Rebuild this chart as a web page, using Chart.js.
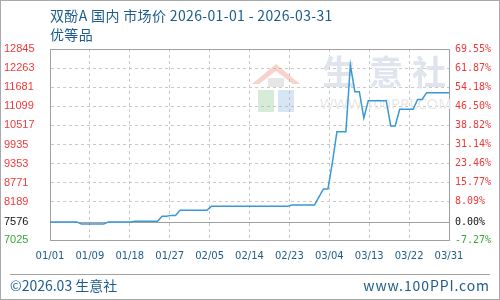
<!DOCTYPE html>
<html>
<head>
<meta charset="utf-8">
<script src="https://cdn.jsdelivr.net/npm/chart.js@4.4.1/dist/chart.umd.min.js"></script>
<style>
  html, body { margin: 0; padding: 0; background: #fff; }
  #wrap { position: relative; width: 500px; height: 300px; box-sizing: border-box; border: 1px solid #aaa; overflow: hidden; }
  #c { position: absolute; left: -1px; top: -1px; }
  .txt { position: absolute; font-family: "Noto Sans CJK SC", "Noto Sans", sans-serif; font-size: 14px; color: #1d5c8c; white-space: nowrap; line-height: 19px; }
  #title { left: 49px; top: 5px; letter-spacing: 0.35px; }
  #foot { position: absolute; left: 9px; top: 273px; width: 480px; height: 0; border-top: 1px solid #a0a0a0; }
  #copy { left: 9px; top: 275px; }
  #site { right: 9px; top: 275px; letter-spacing: 0.9px; }
</style>
</head>
<body>
<div id="wrap">
  <canvas id="c" width="500" height="300"></canvas>
  <div class="txt" id="title">双酚A 国内 市场价 2026-01-01 - 2026-03-31<br>优等品</div>
  <div id="foot"></div>
  <div class="txt" id="copy">©2026.03 生意社</div>
  <div class="txt" id="site">www.100PPI.com</div>
</div>
<script>
// daily price, 2026-01-01 .. 2026-03-31 (90 days)
const prices = [
    7576, 7576, 7576, 7576, 7576, 7576, 7576,
    7510, 7510, 7510, 7510, 7510, 7510,
    7576, 7576, 7576, 7576, 7576, 7576,
    7595, 7595, 7595, 7595, 7595, 7595,
    7750, 7750, 7775, 7775,
    7930, 7930, 7930, 7930, 7930, 7930, 7930,
    8050, 8050, 8050, 8050, 8050, 8050, 8050, 8050, 8050,
    8050, 8050, 8050, 8050, 8050, 8050, 8050, 8050, 8050,
    8090, 8090, 8090, 8090, 8090, 8090,
    8336, 8580, 8580, 9400,
    10325, 10325, 10325, 12360, 11545, 11545, 10745,
    11270, 11270, 11270, 11270, 11270,
    10500, 10500,
    11010, 11010, 11010, 11010,
    11310, 11310,
    11515, 11515, 11515, 11515, 11515, 11515
];
const basePrice = 7576;
const xTickLabels = ['01/01', '01/09', '01/18', '01/27', '02/05', '02/14', '02/23', '03/04', '03/13', '03/22', '03/31'];
const yTicks = [7025, 7576, 8189, 8771, 9353, 9935, 10517, 11099, 11681, 12263, 12845];

const lastIdx = prices.length - 1;
const xTickPos = xTickLabels.map((_, i) => i * lastIdx / (xTickLabels.length - 1));

function tickColor(v) {
    if (v > basePrice) return '#f03a3a';
    if (v < basePrice) return '#33a833';
    return '#111111';
}

// watermark + frame lines
const decor = {
    id: 'decor',
    beforeDatasetsDraw(chart) {
        const ctx = chart.ctx, a = chart.chartArea;
        ctx.save();
        // logo
        ctx.globalAlpha = 0.35;
        ctx.fillStyle = '#e8826e';
        ctx.beginPath();
        ctx.moveTo(252, 84); ctx.lineTo(276, 64); ctx.lineTo(300, 84); ctx.lineTo(293, 84); ctx.lineTo(276, 71); ctx.lineTo(259, 84);
        ctx.closePath(); ctx.fill();
        ctx.fillStyle = '#8cc98f';
        ctx.fillRect(258, 90, 16, 22);
        ctx.fillStyle = '#8fb4dd';
        ctx.fillRect(278, 90, 16, 22);
        ctx.fillStyle = '#b8b8b8';
        ctx.fillRect(268, 78, 16, 9);
        ctx.globalAlpha = 1;
        ctx.fillStyle = '#e0e4ee';
        ctx.font = 'bold 34px "Noto Sans CJK SC"';
        ctx.textAlign = 'center';
        ctx.textBaseline = 'middle';
        ctx.fillText('生', 339, 72);
        ctx.fillText('意', 386, 72);
        ctx.fillText('社', 429, 72);
        ctx.fillStyle = '#e8e8e8';
        ctx.font = '15px "Noto Sans"';
        ctx.fillText('WWW.100PPI.COM', 386, 105);
        // top frame and base line
        ctx.strokeStyle = '#a0a0a0';
        ctx.lineWidth = 1;
        ctx.beginPath();
        ctx.moveTo(a.left, a.top + 0.5); ctx.lineTo(a.right, a.top + 0.5);
        const yb = Math.round(chart.scales.y.getPixelForValue(basePrice)) + 0.5;
        ctx.moveTo(a.left, yb); ctx.lineTo(a.right, yb);
        ctx.stroke();
        ctx.restore();
    }
};

const gridOpts = {
    color: ctx => (ctx.tick && ctx.tick.value === basePrice) ? 'rgba(0,0,0,0)' : '#c8c8c8',
    drawTicks: false
};

new Chart(document.getElementById('c'), {
    type: 'line',
    data: {
        datasets: [{
            data: prices.map((v, i) => ({ x: i, y: v })),
            borderColor: '#3b98d6',
            borderWidth: 1.5,
            pointRadius: 0,
            tension: 0,
            fill: false
        }]
    },
    options: {
        responsive: false,
        animation: false,
        layout: { padding: { top: 49, left: 4, right: 0, bottom: 0 } },
        plugins: { legend: { display: false }, tooltip: { enabled: false } },
        scales: {
            x: {
                type: 'linear',
                min: 0,
                max: lastIdx,
                afterBuildTicks: s => { s.ticks = xTickPos.map(v => ({ value: v })); },
                afterFit: s => { s.height = 60; },
                ticks: {
                    autoSkip: false,
                    maxRotation: 0,
                    padding: 10,
                    color: '#1d5c8c',
                    font: { family: 'DejaVu Sans', size: 10 },
                    callback: (v, i) => xTickLabels[i]
                },
                grid: gridOpts,
                border: { color: '#a0a0a0', dash: [3, 3] }
            },
            y: {
                position: 'left',
                min: yTicks[0],
                max: yTicks[yTicks.length - 1],
                afterBuildTicks: s => { s.ticks = yTicks.map(v => ({ value: v })); },
                afterFit: s => { s.width = 46; },
                ticks: {
                    crossAlign: 'far',
                    color: c => tickColor(c.tick.value),
                    font: { family: 'Liberation Sans', size: 11 },
                    callback: v => String(v)
                },
                grid: gridOpts,
                border: { color: '#a0a0a0', dash: [3, 3] }
            },
            y1: {
                position: 'right',
                min: yTicks[0],
                max: yTicks[yTicks.length - 1],
                afterBuildTicks: s => { s.ticks = yTicks.map(v => ({ value: v })); },
                afterFit: s => { s.width = 51; },
                ticks: {
                    padding: 6,
                    color: c => tickColor(c.tick.value),
                    font: { family: 'DejaVu Sans Mono', size: 10 },
                    callback: v => ((v - basePrice) / basePrice * 100).toFixed(2) + '%'
                },
                grid: { display: false, drawTicks: false },
                border: { color: '#a0a0a0' }
            }
        }
    },
    plugins: [decor]
});
</script>
</body>
</html>
